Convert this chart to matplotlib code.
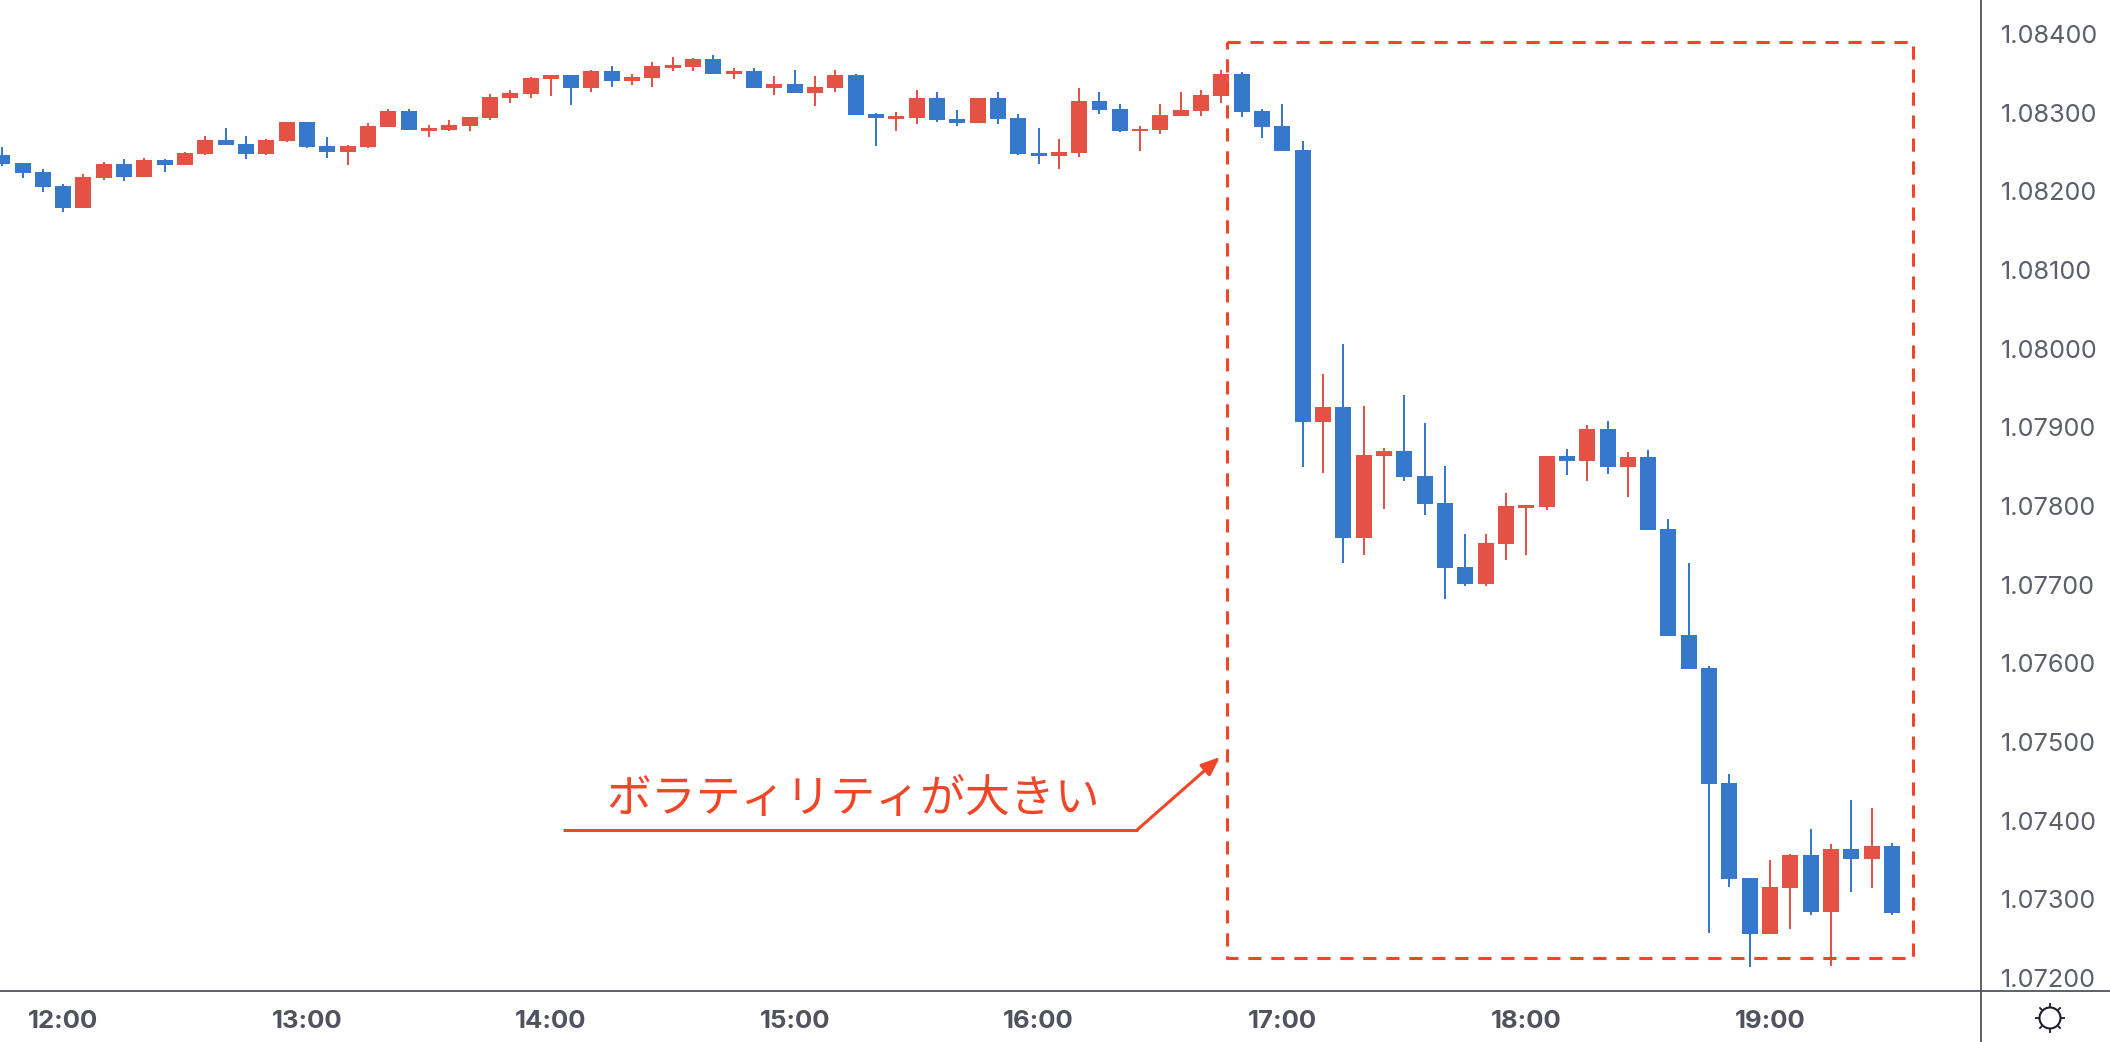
import numpy as np
from matplotlib import pyplot as plt

WIDTH = 2110
HEIGHT = 1042
AXIS_X = 1981
AXIS_Y = 991

BLUE = '#3578CC'
RED = '#E35244'
ACCENT = '#F04628'
AXIS_COLOR = '#50535E'
LABEL_COLOR = '#5C5F6A'
ICON_COLOR = '#1B1D2B'

PRICE_TICKS = [1.07200, 1.07300, 1.07400, 1.07500, 1.07600, 1.07700,
               1.07800, 1.07900, 1.08000, 1.08100, 1.08200, 1.08300, 1.08400]
TIME_TICKS = [3, 15, 27, 39, 51, 63, 75, 87]
TIME_LABELS = ['12:00', '13:00', '14:00', '15:00', '16:00', '17:00', '18:00', '19:00']
NOTE = 'ボラティリティが大きい'

# 5 minute candles
opens = [1.08246, 1.08236, 1.08225, 1.08207, 1.08179, 1.08217, 1.08235, 1.08218, 1.08240, 1.08234,
         1.08248, 1.08265, 1.08260, 1.08248, 1.08264, 1.08288, 1.08258, 1.08250, 1.08256, 1.08282,
         1.08302, 1.08277, 1.08278, 1.08283, 1.08293, 1.08319, 1.08324, 1.08343, 1.08348, 1.08331,
         1.08353, 1.08340, 1.08344, 1.08357, 1.08358, 1.08368, 1.08349, 1.08353, 1.08331, 1.08337,
         1.08325, 1.08331, 1.08348, 1.08298, 1.08292, 1.08293, 1.08319, 1.08292, 1.08287, 1.08319,
         1.08293, 1.08249, 1.08245, 1.08249, 1.08315, 1.08305, 1.08277, 1.08278, 1.08296, 1.08302,
         1.08321, 1.08349, 1.08302, 1.08283, 1.08253, 1.07907, 1.07926, 1.07759, 1.07864, 1.07870,
         1.07838, 1.07804, 1.07723, 1.07701, 1.07752, 1.07798, 1.07799, 1.07864, 1.07857, 1.07898,
         1.07850, 1.07862, 1.07771, 1.07636, 1.07594, 1.07448, 1.07327, 1.07256, 1.07315, 1.07356,
         1.07284, 1.07364, 1.07351, 1.07368]
highs = [1.08256, 1.08236, 1.08228, 1.08209, 1.08222, 1.08237, 1.08241, 1.08242, 1.08241, 1.08250,
         1.08270, 1.08281, 1.08270, 1.08267, 1.08288, 1.08288, 1.08269, 1.08259, 1.08287, 1.08305,
         1.08305, 1.08284, 1.08291, 1.08295, 1.08324, 1.08329, 1.08345, 1.08348, 1.08348, 1.08354,
         1.08359, 1.08349, 1.08364, 1.08371, 1.08370, 1.08373, 1.08357, 1.08357, 1.08347, 1.08354,
         1.08347, 1.08354, 1.08349, 1.08300, 1.08301, 1.08329, 1.08326, 1.08303, 1.08319, 1.08326,
         1.08298, 1.08281, 1.08267, 1.08331, 1.08326, 1.08311, 1.08283, 1.08311, 1.08326, 1.08329,
         1.08354, 1.08352, 1.08305, 1.08311, 1.08264, 1.07968, 1.08006, 1.07927, 1.07874, 1.07941,
         1.07906, 1.07851, 1.07765, 1.07765, 1.07817, 1.07801, 1.07864, 1.07873, 1.07903, 1.07908,
         1.07869, 1.07871, 1.07784, 1.07728, 1.07597, 1.07459, 1.07327, 1.07350, 1.07358, 1.07390,
         1.07370, 1.07426, 1.07416, 1.07372]
lows = [1.08232, 1.08217, 1.08199, 1.08174, 1.08179, 1.08215, 1.08213, 1.08218, 1.08225, 1.08234,
        1.08246, 1.08259, 1.08241, 1.08246, 1.08263, 1.08255, 1.08242, 1.08234, 1.08255, 1.08282,
        1.08278, 1.08269, 1.08277, 1.08277, 1.08291, 1.08312, 1.08319, 1.08321, 1.08310, 1.08326,
        1.08333, 1.08335, 1.08333, 1.08353, 1.08353, 1.08349, 1.08343, 1.08331, 1.08323, 1.08325,
        1.08309, 1.08326, 1.08297, 1.08258, 1.08277, 1.08286, 1.08288, 1.08283, 1.08287, 1.08286,
        1.08246, 1.08235, 1.08228, 1.08244, 1.08298, 1.08275, 1.08251, 1.08273, 1.08296, 1.08296,
        1.08312, 1.08295, 1.08268, 1.08251, 1.07850, 1.07842, 1.07728, 1.07738, 1.07796, 1.07832,
        1.07789, 1.07682, 1.07698, 1.07698, 1.07732, 1.07738, 1.07795, 1.07840, 1.07832, 1.07841,
        1.07812, 1.07770, 1.07635, 1.07593, 1.07257, 1.07316, 1.07214, 1.07256, 1.07262, 1.07280,
        1.07215, 1.07309, 1.07315, 1.07280]
closes = [1.08235, 1.08223, 1.08206, 1.08179, 1.08218, 1.08235, 1.08218, 1.08240, 1.08234, 1.08249,
          1.08265, 1.08259, 1.08248, 1.08265, 1.08288, 1.08256, 1.08250, 1.08258, 1.08283, 1.08302,
          1.08278, 1.08281, 1.08284, 1.08295, 1.08320, 1.08325, 1.08344, 1.08348, 1.08331, 1.08353,
          1.08340, 1.08345, 1.08359, 1.08361, 1.08368, 1.08349, 1.08353, 1.08331, 1.08337, 1.08325,
          1.08333, 1.08348, 1.08297, 1.08293, 1.08296, 1.08319, 1.08291, 1.08287, 1.08319, 1.08292,
          1.08248, 1.08245, 1.08250, 1.08315, 1.08303, 1.08277, 1.08279, 1.08297, 1.08303, 1.08323,
          1.08349, 1.08301, 1.08282, 1.08251, 1.07907, 1.07926, 1.07759, 1.07865, 1.07870, 1.07837,
          1.07803, 1.07721, 1.07701, 1.07753, 1.07800, 1.07801, 1.07864, 1.07857, 1.07898, 1.07850,
          1.07862, 1.07770, 1.07635, 1.07593, 1.07447, 1.07326, 1.07256, 1.07316, 1.07356, 1.07284,
          1.07364, 1.07351, 1.07368, 1.07283]


def main():
    plt.rcParams['font.family'] = ['Inter', 'DejaVu Sans']
    plt.rcParams['lines.scale_dashes'] = False

    figure = plt.figure(figsize=(WIDTH / 100, HEIGHT / 100), dpi=100)
    axis = figure.add_axes([0, (HEIGHT - AXIS_Y) / HEIGHT, AXIS_X / WIDTH, AXIS_Y / HEIGHT])

    # Candles
    index = np.arange(len(opens))
    open_arr = np.array(opens)
    close_arr = np.array(closes)
    colors = [RED if c >= o else BLUE for o, c in zip(opens, closes)]
    axis.vlines(index, lows, highs, colors=colors, linewidth=1.44, zorder=2)
    axis.bar(index, np.abs(close_arr - open_arr), bottom=np.minimum(open_arr, close_arr),
             width=0.787, color=colors, linewidth=0, zorder=3)

    # x runs at 20.32 px a candle, y at 78.67 px per 0.001
    axis.set_xlim(-0.108, 97.38)
    axis.set_ylim(1.071837, 1.084432)

    for spine in axis.spines.values():
        spine.set_visible(False)
    axis.yaxis.tick_right()
    axis.set_yticks(PRICE_TICKS)
    axis.set_yticklabels(['%.5f' % p for p in PRICE_TICKS])
    axis.set_xticks(TIME_TICKS)
    axis.set_xticklabels(TIME_LABELS, fontweight='bold')
    axis.tick_params(axis='y', length=0, pad=14.4, labelsize=18.2, labelcolor=LABEL_COLOR)
    axis.tick_params(axis='x', length=0, pad=14.0, labelsize=18.5, labelcolor=AXIS_COLOR)

    # Overlay in picture pixels for the drawn notes and the frame lines
    overlay = figure.add_axes([0, 0, 1, 1], facecolor='none')
    overlay.set_xlim(0, WIDTH)
    overlay.set_ylim(HEIGHT, 0)
    overlay.axis('off')

    overlay.plot([0, WIDTH], [AXIS_Y, AXIS_Y], color=AXIS_COLOR, linewidth=1.3)
    overlay.plot([AXIS_X, AXIS_X], [0, HEIGHT], color=AXIS_COLOR, linewidth=1.3)

    # Dashed box, one path so the dashes run round the corners
    overlay.plot([1227.3, 1912.7, 1912.7, 1227.3, 1227.3], [41.7, 41.7, 957.7, 957.7, 41.7],
                 color=ACCENT, linewidth=2.2, linestyle=(0, (9.5, 7.06)), dash_capstyle='butt')

    overlay.plot([563, 1138], [829.7, 829.7], color=ACCENT, linewidth=2.2, solid_capstyle='butt')
    overlay.annotate('', xy=(1220, 757), xytext=(1137, 830),
                     arrowprops=dict(arrowstyle='-|>,head_length=0.75,head_width=0.3', color=ACCENT,
                                     linewidth=2.2, shrinkA=0, shrinkB=0, mutation_scale=15))
    overlay.text(853, 799, NOTE, color=ACCENT, fontsize=32.3, ha='center', va='center',
                 family=['Noto Sans CJK JP', 'DejaVu Sans'], fontweight='normal')

    # Theme icon
    sun_x, sun_y = 2050, 1018
    overlay.add_patch(plt.Circle((sun_x, sun_y), 10.5, fill=False, edgecolor=ICON_COLOR, linewidth=1.5))
    for angle in np.arange(8) * np.pi / 4:
        overlay.plot([sun_x + 11 * np.cos(angle), sun_x + 15 * np.cos(angle)],
                     [sun_y + 11 * np.sin(angle), sun_y + 15 * np.sin(angle)],
                     color=ICON_COLOR, linewidth=1.3, solid_capstyle='butt')

    figure.savefig('out.png', dpi=100)


if __name__ == "__main__":
    main()
